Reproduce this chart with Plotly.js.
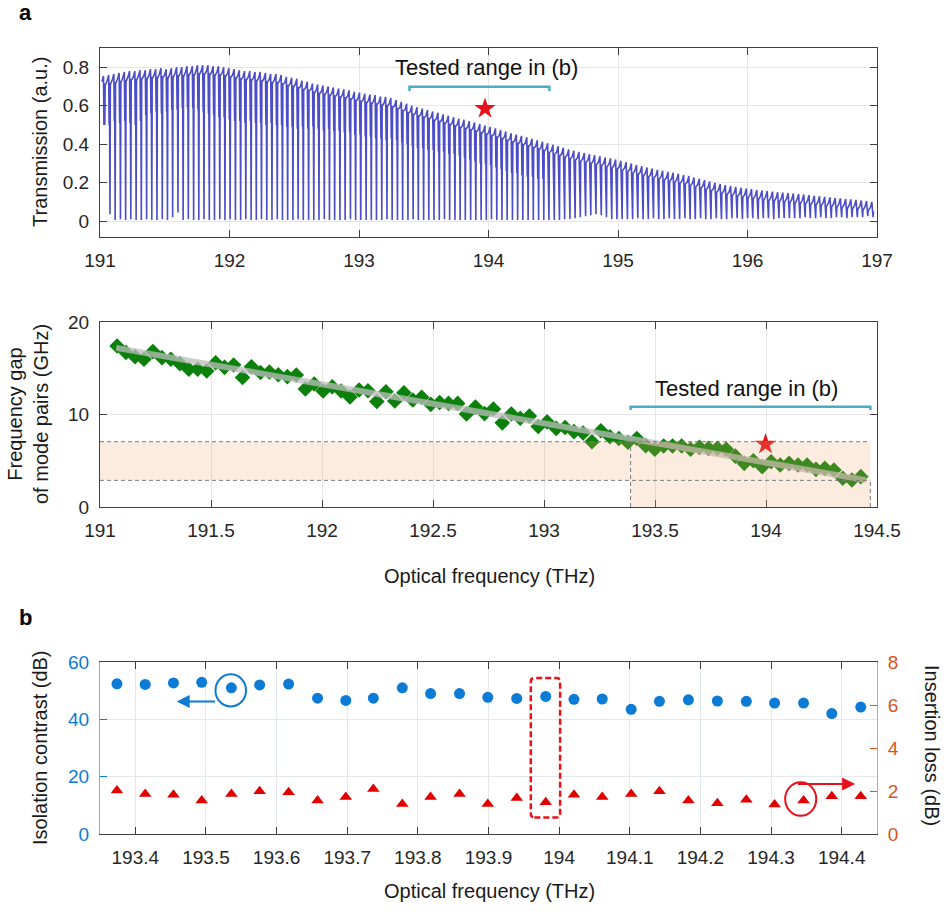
<!DOCTYPE html>
<html><head><meta charset="utf-8">
<script src="https://cdn.plot.ly/plotly-3.0.1.min.js"></script>
<style>html,body{margin:0;padding:0;background:#fff}#chart{width:948px;height:913px}</style>
</head><body><div id="chart"></div>
<script>
// ---------- Panel a (top): transmission comb ----------
const resonanceFreq = [191.037,
191.077,191.117,191.158,191.198,191.238,191.279,191.319,191.360,191.400,191.440,
191.481,191.521,191.561,191.602,191.642,191.682,191.723,191.763,191.803,191.844,
191.884,191.925,191.965,192.005,192.046,192.086,192.126,192.167,192.207,192.247,
192.288,192.328,192.369,192.409,192.449,192.490,192.530,192.570,192.611,192.651,
192.691,192.732,192.772,192.812,192.853,192.893,192.934,192.974,193.014,193.055,
193.095,193.135,193.176,193.216,193.256,193.297,193.337,193.378,193.418,193.458,
193.499,193.539,193.579,193.620,193.660,193.700,193.741,193.781,193.821,193.862,
193.902,193.943,193.983,194.023,194.064,194.104,194.144,194.185,194.225,194.265,
194.306,194.346,194.387,194.427,194.467,194.508,194.548,194.588,194.629,194.669,
194.709,194.750,194.790,194.830,194.871,194.911,194.952,194.992,195.032,195.073,
195.113,195.153,195.194,195.234,195.274,195.315,195.355,195.396,195.436,195.476,
195.517,195.557,195.597,195.638,195.678,195.718,195.759,195.799,195.839,195.880,
195.920,195.961,196.001,196.041,196.082,196.122,196.162,196.203,196.243,196.283,
196.324,196.364,196.405,196.445,196.485,196.526,196.566,196.606,196.647,196.687,
196.727,196.768,196.808,196.848,196.889,196.929,196.970];
const envelope = [0.755,
0.76,0.765,0.77,0.775,0.78,0.78,0.785,0.785,0.79,0.79,
0.795,0.79,0.795,0.80,0.80,0.805,0.805,0.81,0.81,0.81,
0.805,0.805,0.80,0.795,0.79,0.785,0.78,0.78,0.775,0.775,
0.77,0.765,0.765,0.76,0.75,0.745,0.74,0.73,0.725,0.715,
0.71,0.705,0.70,0.695,0.69,0.685,0.68,0.672,0.668,0.662,
0.658,0.655,0.648,0.645,0.64,0.63,0.62,0.61,0.60,0.592,
0.585,0.578,0.57,0.563,0.555,0.548,0.54,0.533,0.527,0.52,
0.513,0.505,0.497,0.49,0.482,0.474,0.466,0.457,0.45,0.443,
0.436,0.428,0.42,0.413,0.405,0.397,0.389,0.381,0.373,0.366,
0.36,0.354,0.348,0.342,0.337,0.331,0.326,0.32,0.313,0.306,
0.299,0.292,0.285,0.279,0.273,0.267,0.262,0.256,0.251,0.246,
0.24,0.234,0.227,0.22,0.213,0.206,0.199,0.193,0.187,0.182,
0.178,0.173,0.169,0.166,0.162,0.159,0.156,0.153,0.15,0.148,
0.146,0.143,0.141,0.138,0.135,0.132,0.129,0.126,0.123,0.12,
0.118,0.115,0.113,0.11,0.107,0.104,0.10];
const deepDip = [0.5,
0.035,0.005,0.01,0.005,0.01,0.005,0.005,0.01,0.005,0.005,
0.01,0.005,0.02,0.045,0.005,0.01,0.005,0.005,0.01,0.005,
0.005,0.01,0.005,0.01,0.005,0.005,0.01,0.005,0.005,0.01,
0.005,0.005,0.01,0.005,0.005,0.005,0.01,0.005,0.005,0.005,
0.005,0.01,0.005,0.005,0.005,0.005,0.01,0.005,0.005,0.005,
0.005,0.005,0.005,0.01,0.005,0.005,0.005,0.005,0.01,0.005,
0.005,0.005,0.005,0.005,0.01,0.005,0.005,0.005,0.005,0.005,
0.005,0.005,0.005,0.01,0.005,0.005,0.005,0.005,0.005,0.005,
0.005,0.005,0.005,0.005,0.005,0.005,0.005,0.01,0.01,0.015,
0.02,0.025,0.03,0.035,0.03,0.02,0.01,0.01,0.01,0.01,
0.01,0.015,0.01,0.01,0.015,0.01,0.01,0.015,0.01,0.01,
0.015,0.01,0.01,0.015,0.01,0.01,0.015,0.01,0.01,0.015,
0.015,0.01,0.015,0.015,0.01,0.015,0.015,0.01,0.015,0.015,
0.015,0.015,0.015,0.02,0.015,0.015,0.02,0.015,0.015,0.02,
0.02,0.015,0.02,0.02,0.02,0.025,0.02];
const shallowDip = [0.50,
0.50,0.52,0.51,0.52, 0.51,0.50,0.52,0.55, 0.56,0.57,0.56,0.57,0.58,
0.58,0.59,0.59,0.59,0.58,0.57, 0.56,0.55,0.54,0.54,0.53,0.52,
0.52,0.51,0.52,0.51,0.51,0.50, 0.51,0.50,0.50,0.49,0.49,0.48,
0.49,0.48,0.49,0.48,0.47,0.48, 0.47,0.47,0.46,0.46,0.45,0.45,
0.44,0.44,0.43,0.43,0.42,0.43, 0.42,0.41,0.40,0.39,0.38,0.38,
0.37,0.37,0.36,0.36,0.35,0.35, 0.34,0.33,0.32,0.31,0.30,0.30,
0.29,0.28,0.27,0.26,0.25,0.25, 0.24,0.23,0.23,0.22,0.22];
const testedRangeTHz = [193.39, 194.47];
const starTop = {f: 193.973, t: 0.585};

// ---------- Panel a (middle): mode-pair gap ----------
const modeFreq = resonanceFreq.slice(1, 85);
const gapGHz = [17.4,16.7,16.25,15.97,16.8,16.15,15.97,15.5,14.9,14.9,
14.7,15.6,15.1,15.35,14.0,15.17,14.55,14.6,14.3,14.1,
14.27,12.76,13.3,12.54,13.0,12.54,11.9,12.65,12.57,11.4,
12.46,11.46,12.36,11.57,11.86,11.1,11.3,11.2,11.2,10.05,
10.8,10.1,10.6,9.1,10.05,9.6,9.84,8.7,9.2,8.5,
8.6,8.15,8.0,7.06,8.25,7.6,7.4,7.0,7.4,6.63,
6.24,6.6,6.6,6.6,6.24,6.45,6.34,6.34,6.24,5.5,
4.72,5.0,4.36,4.9,4.54,4.72,4.54,4.54,4.07,4.18,
4.0,3.1,2.92,3.28];
const fitFreq = [191.073, 194.45];
const fitGap = [17.2, 2.9];
const bandGHz = [2.88, 7.06];
const starMid = {f: 193.998, g: 6.78};

// ---------- Panel b (bottom) ----------
const bFreq = [193.374,193.414,193.454,193.494,193.536,193.576,193.617,193.658,193.698,193.737,
193.778,193.818,193.859,193.899,193.940,193.981,194.021,194.061,194.102,194.142,
194.183,194.224,194.265,194.305,194.346,194.386,194.427];
const contrastDB = [52.4,52.2,52.7,52.9,51.0,52.0,52.3,47.4,46.6,47.4,
51.0,49.0,49.0,47.7,47.3,48.0,47.0,47.1,43.5,46.3,
46.8,46.4,46.3,45.7,45.7,42.0,44.3];
const lossDB = [2.02,1.86,1.83,1.56,1.86,1.99,1.94,1.56,1.72,2.10,
1.40,1.72,1.86,1.40,1.68,1.48,1.83,1.72,1.86,1.99,
1.56,1.43,1.60,1.37,1.56,1.76,1.76];
const starBot = {f: 193.979, c: 65.2};

// ---------- build the comb polyline ----------
const tx = [], ty = [];
resonanceFreq.forEach((f, i) => {
  const E = envelope[i];
  tx.push(f - 0.022); ty.push(E - 0.03);
  tx.push(f - 0.010); ty.push(E);
  if (i < shallowDip.length) {
    tx.push(f - 0.0065); ty.push(shallowDip[i]);
    tx.push(f - 0.004); ty.push(E - 0.04);
  }
  tx.push(f); ty.push(deepDip[i]);
  tx.push(f + 0.003); ty.push(E - 0.05);
});

const BLUE = '#0b7bd6', ORANGE = '#D95319', RED = '#e8101a', TEAL = '#4bacc6';
const FONT = 'Liberation Sans, Arial, Helvetica, sans-serif';
const AX = '#404040', GRID = '#e6e6e6';

const traces = [
  {x: tx, y: ty, xaxis: 'x', yaxis: 'y', mode: 'lines', line: {color: '#4d4dc8', width: 1.6}, hoverinfo: 'skip'},
  {x: [testedRangeTHz[0], testedRangeTHz[0], testedRangeTHz[1], testedRangeTHz[1]], y: [0.677, 0.698, 0.698, 0.677],
   xaxis: 'x', yaxis: 'y', mode: 'lines', line: {color: TEAL, width: 2.5}},
  {x: [starTop.f], y: [starTop.t], xaxis: 'x', yaxis: 'y', mode: 'markers', marker: {symbol: 'star', size: 16, color: RED}},

  {x: modeFreq, y: gapGHz, xaxis: 'x2', yaxis: 'y2', mode: 'markers', marker: {symbol: 'diamond', size: 12, color: '#0b800b'}},
  {x: fitFreq, y: fitGap, xaxis: 'x2', yaxis: 'y2', mode: 'lines', line: {color: 'rgba(190,190,190,0.75)', width: 6}},
  {x: [testedRangeTHz[0], testedRangeTHz[0], testedRangeTHz[1], testedRangeTHz[1]], y: [10.5, 10.85, 10.85, 10.5],
   xaxis: 'x2', yaxis: 'y2', mode: 'lines', line: {color: TEAL, width: 2.5}},
  {x: [starMid.f], y: [starMid.g], xaxis: 'x2', yaxis: 'y2', mode: 'markers', marker: {symbol: 'star', size: 16, color: RED}},

  {x: bFreq, y: contrastDB, xaxis: 'x3', yaxis: 'y3', mode: 'markers', marker: {symbol: 'circle', size: 11, color: BLUE}},
  {x: bFreq, y: lossDB, xaxis: 'x3', yaxis: 'y4', mode: 'markers', marker: {symbol: 'triangle-up', size: 11, color: '#e00000'}},
  {x: [starBot.f], y: [starBot.c], xaxis: 'x3', yaxis: 'y3', mode: 'markers', cliponaxis: false, marker: {symbol: 'star', size: 16, color: RED}}
];

const xdom = [100/948, 877/948];
function axBase(extra) {
  return Object.assign({
    showline: true, linecolor: AX, linewidth: 1, mirror: 'ticks',
    ticks: 'inside', ticklen: 7, tickcolor: AX, tickwidth: 1,
    showgrid: true, gridcolor: GRID, zeroline: false, ticklabelstandoff: 6,
    tickfont: {family: FONT, size: 19, color: '#262626'}
  }, extra);
}

// rounded dashed rectangle (bottom panel)
const rx0 = 193.9599, rx1 = 194.0014, ry0 = 5.8, ry1 = 54.4, rr = 0.005, rv = 1.3;
const roundRect = `M ${rx0+rr},${ry0} L ${rx1-rr},${ry0} Q ${rx1},${ry0} ${rx1},${ry0+rv} L ${rx1},${ry1-rv} Q ${rx1},${ry1} ${rx1-rr},${ry1} L ${rx0+rr},${ry1} Q ${rx0},${ry1} ${rx0},${ry1-rv} L ${rx0},${ry0+rv} Q ${rx0},${ry0} ${rx0+rr},${ry0} Z`;

function note(text, px, py, size, angle, bold) {
  return {text: text, xref: 'paper', yref: 'paper', x: px/948, y: 1 - py/913, xanchor: 'center', yanchor: 'middle',
    textangle: angle || 0, showarrow: false, font: {size: size, color: bold ? '#000' : '#1a1a1a'}};
}

const layout = {
  width: 948, height: 913, margin: {l: 0, r: 0, t: 0, b: 0},
  paper_bgcolor: '#fff', plot_bgcolor: '#fff', showlegend: false,
  font: {family: FONT, color: '#1a1a1a'},
  xaxis: axBase({domain: xdom, anchor: 'y', range: [191, 197], tickvals: [191,192,193,194,195,196,197]}),
  yaxis: axBase({domain: [0.7404, 0.9474], anchor: 'x', range: [-0.083, 0.9], tickvals: [0,0.2,0.4,0.6,0.8], ticktext: ['0','0.2','0.4','0.6','0.8']}),
  xaxis2: axBase({domain: xdom, anchor: 'y2', range: [191, 194.5], tickvals: [191,191.5,192,192.5,193,193.5,194,194.5], ticktext: ['191','191.5','192','192.5','193','193.5','194','194.5']}),
  yaxis2: axBase({domain: [0.4447, 0.6473], anchor: 'x2', range: [0, 20], tickvals: [0,10,20]}),
  xaxis3: axBase({domain: xdom, anchor: 'y3', range: [193.35, 194.45], gridcolor: '#e3e8ef',
    tickvals: [193.4,193.5,193.6,193.7,193.8,193.9,194,194.1,194.2,194.3,194.4],
    ticktext: ['193.4','193.5','193.6','193.7','193.8','193.9','194','194.1','194.2','194.3','194.4']}),
  yaxis3: axBase({domain: [0.0865, 0.2749], anchor: 'x3', range: [0, 60], tickvals: [0,20,40,60], mirror: false,
    linecolor: 'rgba(11,123,214,0.6)', tickcolor: BLUE, gridcolor: '#e3e8ef', tickfont: {family: FONT, size: 19, color: BLUE}}),
  yaxis4: axBase({overlaying: 'y3', side: 'right', anchor: 'x3', range: [0, 8], tickvals: [0,2,4,6,8], mirror: false, showgrid: false,
    linecolor: 'rgba(217,83,25,0.6)', tickcolor: ORANGE, tickfont: {family: FONT, size: 19, color: ORANGE}}),
  shapes: [
    {type: 'path', xref: 'x2', yref: 'y2', layer: 'above', line: {width: 0},
     fillcolor: 'rgba(240,170,110,0.22)',
     path: `M 191,${bandGHz[0]} L ${testedRangeTHz[0]},${bandGHz[0]} L ${testedRangeTHz[0]},0 L ${testedRangeTHz[1]},0 L ${testedRangeTHz[1]},${bandGHz[1]} L 191,${bandGHz[1]} Z`},
    {type: 'line', xref: 'x2', yref: 'y2', x0: 191, x1: testedRangeTHz[1], y0: bandGHz[1], y1: bandGHz[1], line: {color: '#7a7a7a', width: 1, dash: '4px,3px'}},
    {type: 'line', xref: 'x2', yref: 'y2', x0: 191, x1: testedRangeTHz[1], y0: bandGHz[0], y1: bandGHz[0], line: {color: '#7a7a7a', width: 1, dash: '4px,3px'}},
    {type: 'line', xref: 'x2', yref: 'y2', x0: testedRangeTHz[0], x1: testedRangeTHz[0], y0: 0, y1: bandGHz[1], line: {color: '#7a7a7a', width: 1, dash: '4px,3px'}},
    {type: 'line', xref: 'x2', yref: 'y2', x0: testedRangeTHz[1], x1: testedRangeTHz[1], y0: 0, y1: bandGHz[0], line: {color: '#7a7a7a', width: 1, dash: '4px,3px'}},
    {type: 'path', xref: 'x3', yref: 'y3', path: roundRect, line: {color: RED, width: 2.5, dash: '6px,3px'}},
    {type: 'circle', xref: 'x3', yref: 'y3', x0: 193.5135, x1: 193.5567, y0: 44.5, y1: 55.7, line: {color: BLUE, width: 2}},
    {type: 'circle', xref: 'x3', yref: 'y4', x0: 194.320, x1: 194.364, y0: 0.85, y1: 2.41, line: {color: RED, width: 2}}
  ],
  annotations: [
    note('<b>a</b>', 25, 13, 22, 0, true),
    note('<b>b</b>', 25, 617, 22, 0, true),
    note('Transmission (a.u.)', 40, 142, 20, -90),
    note('Frequency gap<br>of mode pairs (GHz)', 28, 414, 20, -90),
    note('Optical frequency (THz)', 489, 576, 20, 0),
    note('Isolation contrast (dB)', 40, 748, 20, -90),
    note('Insertion loss (dB)', 932, 745, 20, 90),
    note('Optical frequency (THz)', 489, 891, 20, 0),
    {text: 'Tested range in (b)', xref: 'x', yref: 'y', x: 193.986, y: 0.80, xanchor: 'center', yanchor: 'middle', showarrow: false, font: {size: 22, color: '#111'}},
    {text: 'Tested range in (b)', xref: 'x2', yref: 'y2', x: 193.91, y: 12.86, xanchor: 'center', yanchor: 'middle', showarrow: false, font: {size: 22, color: '#111'}},
    {text: '', xref: 'x3', yref: 'y3', x: 193.4586, y: 46.2, axref: 'x3', ayref: 'y3', ax: 193.515, ay: 46.2,
     showarrow: true, arrowhead: 2, arrowsize: 1.3, arrowwidth: 2, arrowcolor: BLUE, standoff: 0},
    {text: '', xref: 'x3', yref: 'y4', x: 194.419, y: 2.33, axref: 'x3', ayref: 'y4', ax: 194.336, ay: 2.33,
     showarrow: true, arrowhead: 2, arrowsize: 1.3, arrowwidth: 2, arrowcolor: RED, standoff: 0}
  ]
};

Plotly.newPlot('chart', traces, layout, {staticPlot: true, displayModeBar: false});
</script>
</body></html>
